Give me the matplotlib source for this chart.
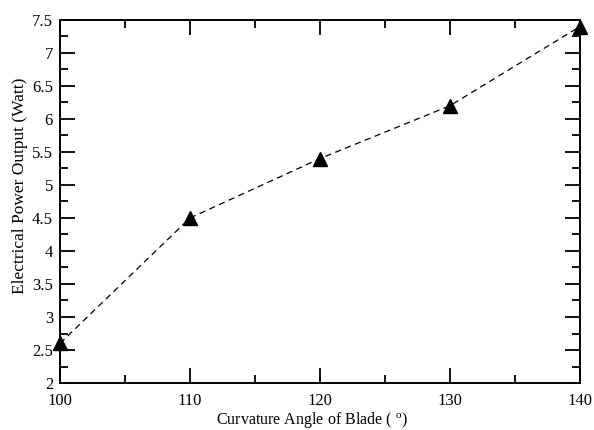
import matplotlib
matplotlib.use('Agg')
import matplotlib.pyplot as plt
from matplotlib.ticker import MultipleLocator

# data
angle = [100, 110, 120, 130, 140]
power = [2.6, 4.5, 5.4, 6.2, 7.4]

plt.rcParams['font.family'] = ['Liberation Serif', 'DejaVu Serif']
plt.rcParams['mathtext.fontset'] = 'custom'
plt.rcParams['mathtext.rm'] = 'Liberation Serif'
plt.rcParams['mathtext.it'] = 'Liberation Serif'

fig = plt.figure(figsize=(5.94, 4.3), dpi=100)
ax = fig.add_axes([0.101, 0.1093, 0.875, 0.8442])

ax.plot(angle, power, color='black', linestyle=(0, (5, 3.5)), linewidth=0.9,
        marker='^', markersize=10, markerfacecolor='black', clip_on=False)

ax.set_xlim(100, 140)
ax.set_ylim(2, 7.5)
ax.xaxis.set_major_locator(MultipleLocator(10))
ax.xaxis.set_minor_locator(MultipleLocator(5))
ax.yaxis.set_major_locator(MultipleLocator(0.5))
ax.yaxis.set_minor_locator(MultipleLocator(0.25))
ax.yaxis.set_major_formatter(plt.FuncFormatter(lambda v, p: f'{v:g}'))

ax.tick_params(which='both', direction='in', top=True, right=True, width=1.3,
               labelsize=12)
ax.tick_params(which='major', length=11)
ax.tick_params(which='minor', length=6)
ax.tick_params(axis='x', pad=7)
ax.tick_params(axis='y', pad=5)
for s in ax.spines.values():
    s.set_linewidth(1.4)

ax.set_xlabel(r'Curvature Angle of Blade ( $^{\mathrm{o}}$)', fontsize=11.5)
ax.set_ylabel('Electrical Power Output (Watt)', fontsize=12.5)
ax.xaxis.set_label_coords(0.485, -0.075)
ax.yaxis.set_label_coords(-0.062, 0.543)

fig.savefig('out.png', dpi=100)
